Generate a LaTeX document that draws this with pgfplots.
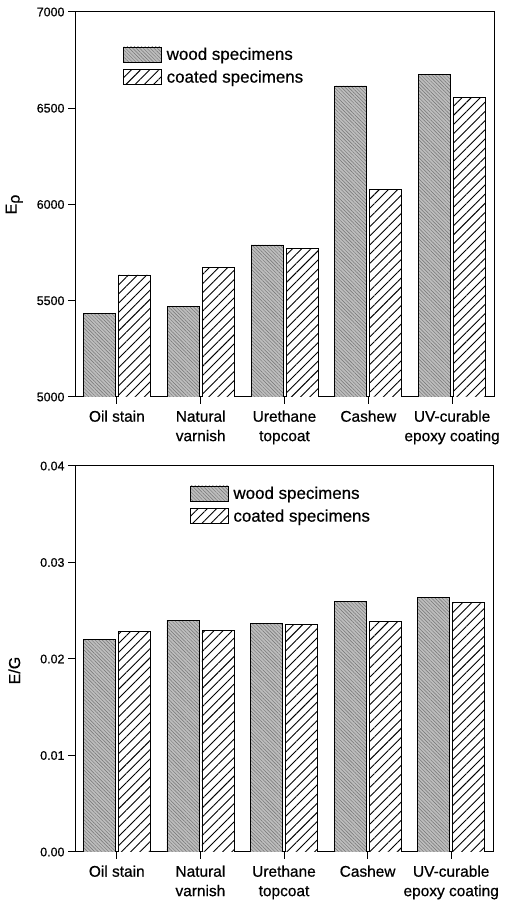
\documentclass[border=0pt]{standalone}
\usepackage{fontspec}
\setmainfont[FakeBold=0.6]{Liberation Sans}
\usepackage{pgfplots}
\pgfplotsset{compat=1.18}
\usetikzlibrary{patterns.meta}

\definecolor{woodgray}{gray}{0.74}

% values (categories at x = 0..4)
\pgfplotstableread{
x  wood  coated
0  5435  5634
1  5472  5672
2  5790  5770
3  6616  6078
4  6676  6558
}\Eptable

\pgfplotstableread{
x  wood     coated
0  0.02203  0.02282
1  0.02403  0.02299
2  0.02365  0.02358
3  0.02597  0.02393
4  0.02638  0.02586
}\EGtable

\pgfplotsset{
  woodbar/.style={fill=woodgray, draw=black, line width=0.8bp,
    postaction={pattern={Lines[angle=-45,distance=2.5bp,line width=0.45bp]}, pattern color=black!55},
    legend image code/.code={\draw[##1] (0bp,-7.5bp) rectangle (38bp,7.5bp);}},
  coatbar/.style={fill=white, draw=black, line width=0.8bp,
    postaction={pattern={Lines[angle=45,distance=6.5bp,line width=0.9bp]}, pattern color=black},
    legend image code/.code={\draw[##1] (0bp,-7.5bp) rectangle (38bp,7.5bp);}},
  panel/.style={
    scale only axis, width=419bp, height=385bp,
    ybar=3bp, bar width=32bp,
    xmin=-0.5, xmax=4.5, xtick={0,1,2,3,4},
    xticklabels={Oil stain, {Natural\\varnish}, {Urethane\\topcoat}, Cashew, {UV-curable\\epoxy coating}},
    xtick pos=left, ytick pos=left, tick align=outside,
    major tick length=7bp,
    axis line style={line width=1bp},
    every tick/.style={black, line width=1bp},
    scaled y ticks=false,
    /pgf/number format/assume math mode=true,
    yticklabel style={font=\fontsize{12.5}{15}\selectfont},
    xticklabel style={align=center, font=\fontsize{15.5}{19.5}\selectfont, yshift=-3bp},
    every axis y label/.append style={font=\fontsize{16}{19}\selectfont},
    legend style={draw=none, fill=none, inner sep=0pt, anchor=north west,
      font=\fontsize{17}{20}\selectfont, row sep=6bp,
      nodes={inner sep=1.5bp}},
    legend cell align=left,
  },
}

\begin{document}
\begin{tikzpicture}[x=1bp,y=1bp]
\useasboundingbox (0,0) rectangle (513,909);

\begin{axis}[panel, at={(75bp,512bp)}, anchor=south west,
  ymin=5000, ymax=7000, ytick={5000,5500,6000,6500,7000},
  /pgf/number format/1000 sep={},
  ylabel={E\raisebox{-0.35ex}{ρ}},
  every axis y label/.append style={at={(axis description cs:-0.145,0.5)}, anchor=center},
  legend style={at={(axis description cs:0.115,0.912)}},
]
\addplot[woodbar] table[x=x, y=wood] {\Eptable};
\addplot[coatbar] table[x=x, y=coated] {\Eptable};
\legend{\hspace{3bp}wood specimens, \hspace{3bp}coated specimens}
\end{axis}

\begin{axis}[panel, at={(75bp,57bp)}, anchor=south west, width=418bp, height=386bp,
  ymin=0, ymax=0.04, ytick={0,0.01,0.02,0.03,0.04},
  yticklabel={\pgfmathprintnumber[fixed, fixed zerofill, precision=2]{\tick}},
  ylabel={E/G},
  every axis y label/.append style={at={(axis description cs:-0.145,0.47)}, anchor=center},
  legend style={at={(axis description cs:0.275,0.951)}},
]
\addplot[woodbar] table[x=x, y=wood] {\EGtable};
\addplot[coatbar] table[x=x, y=coated] {\EGtable};
\legend{\hspace{3bp}wood specimens, \hspace{3bp}coated specimens}
\end{axis}
\end{tikzpicture}
\end{document}
